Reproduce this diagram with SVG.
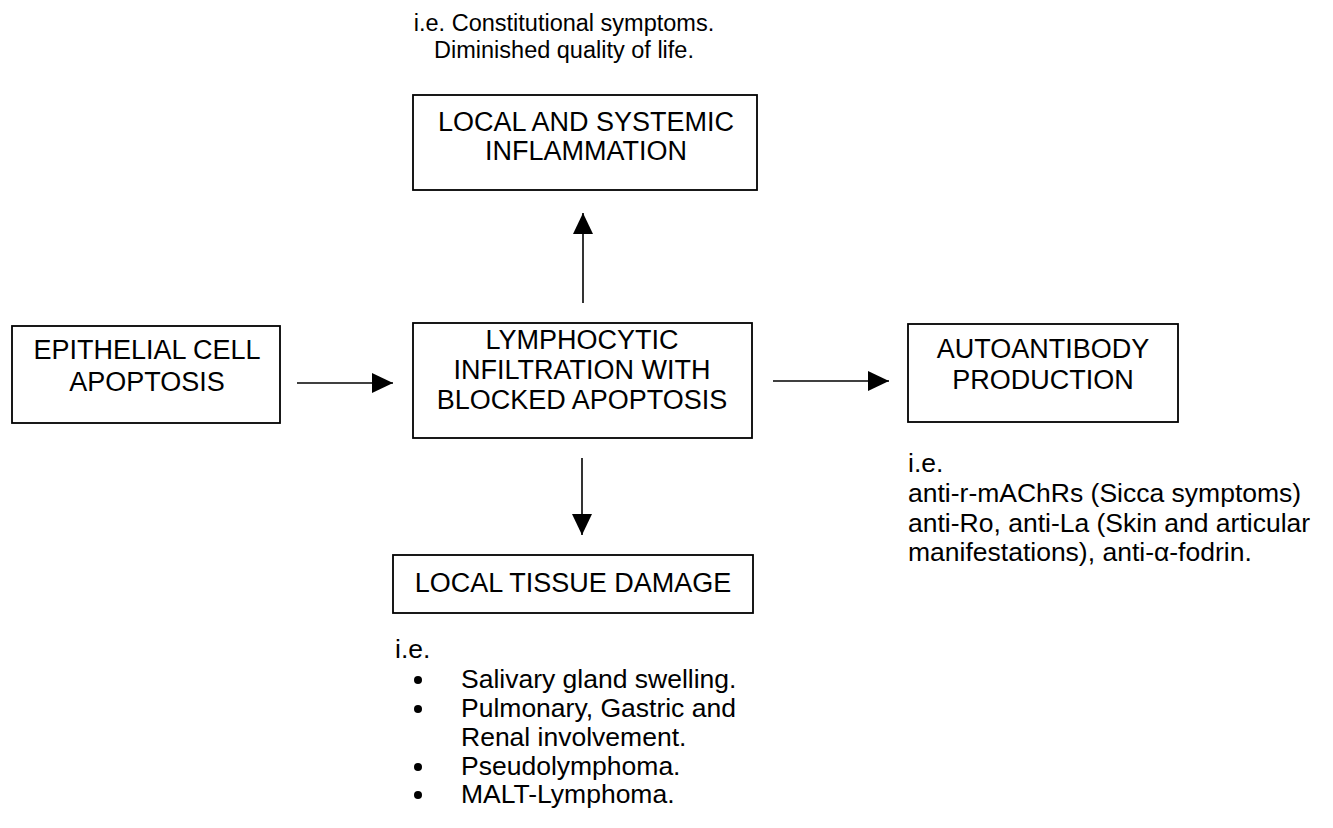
<svg xmlns="http://www.w3.org/2000/svg" width="1333" height="828" viewBox="0 0 1333 828">
<style>
text{font-family:"Liberation Sans",Arial,sans-serif;fill:#000}
.b{font-size:27px;text-anchor:middle}
.n{font-size:26.5px}
.t{font-size:23.5px;text-anchor:middle}
.box{fill:#fff;stroke:#000;stroke-width:1.8}
.ln{stroke:#000;stroke-width:1.6;fill:none}
</style>
<defs>
<marker id="ah" viewBox="0 0 21 20" refX="21" refY="10" markerWidth="21" markerHeight="20" markerUnits="userSpaceOnUse" orient="auto">
<path d="M0,0 L21,10 L0,20 Z" fill="#000"/>
</marker>
</defs>
<rect width="1333" height="828" fill="#fff"/>

<g id="connectors">
<line class="ln" x1="297" y1="383" x2="393" y2="383" marker-end="url(#ah)"/>
<line class="ln" x1="773" y1="381" x2="889" y2="381" marker-end="url(#ah)"/>
<line class="ln" x1="583" y1="303" x2="583" y2="213" marker-end="url(#ah)"/>
<line class="ln" x1="582" y1="458" x2="582" y2="535" marker-end="url(#ah)"/>
</g>

<g id="top-note">
<text class="t" x="564" y="31">i.e. Constitutional symptoms.</text>
<text class="t" x="564" y="58">Diminished quality of life.</text>
</g>

<g id="node-inflammation">
<rect class="box" x="413" y="95" width="344" height="95"/>
<text class="b" x="586" y="131">LOCAL AND SYSTEMIC</text>
<text class="b" x="586" y="160">INFLAMMATION</text>
</g>

<g id="node-epithelial">
<rect class="box" x="12" y="326" width="268" height="97"/>
<text class="b" x="147" y="359">EPITHELIAL CELL</text>
<text class="b" x="147" y="391">APOPTOSIS</text>
</g>

<g id="node-lymphocytic">
<rect class="box" x="413" y="323" width="339" height="115"/>
<text class="b" x="582" y="349">LYMPHOCYTIC</text>
<text class="b" x="582" y="379">INFILTRATION WITH</text>
<text class="b" x="582" y="409">BLOCKED APOPTOSIS</text>
</g>

<g id="node-autoantibody">
<rect class="box" x="908" y="324" width="270" height="98"/>
<text class="b" x="1043" y="358">AUTOANTIBODY</text>
<text class="b" x="1043" y="389">PRODUCTION</text>
</g>

<g id="right-note">
<text class="n" x="908" y="472">i.e.</text>
<text class="n" x="908" y="502">anti-r-mAChRs (Sicca symptoms)</text>
<text class="n" x="908" y="532">anti-Ro, anti-La (Skin and articular</text>
<text class="n" x="908" y="561">manifestations), anti-α-fodrin.</text>
</g>

<g id="node-tissue">
<rect class="box" x="393" y="555" width="360" height="58"/>
<text class="b" x="573" y="592">LOCAL TISSUE DAMAGE</text>
</g>

<g id="bottom-note">
<text class="n" x="395" y="658">i.e.</text>
<circle cx="418" cy="680" r="4"/>
<text class="n" x="461" y="688">Salivary gland swelling.</text>
<circle cx="418" cy="709" r="4"/>
<text class="n" x="461" y="717">Pulmonary, Gastric and</text>
<text class="n" x="461" y="746">Renal involvement.</text>
<circle cx="418" cy="767" r="4"/>
<text class="n" x="461" y="775">Pseudolymphoma.</text>
<circle cx="418" cy="795" r="4"/>
<text class="n" x="461" y="803">MALT-Lymphoma.</text>
</g>
</svg>
